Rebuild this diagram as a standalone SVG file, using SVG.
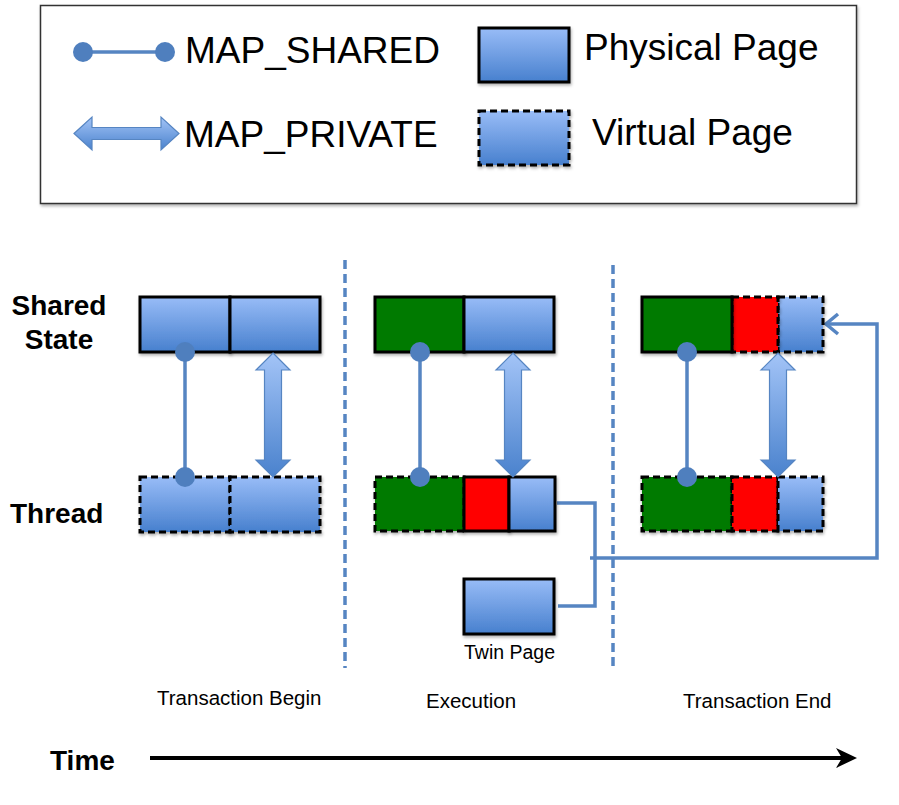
<svg xmlns="http://www.w3.org/2000/svg" width="899" height="805" viewBox="0 0 899 805">
<defs>
<linearGradient id="blue" x1="0" y1="0" x2="0" y2="1">
<stop offset="0" stop-color="#98BCF7"/>
<stop offset="1" stop-color="#4780CE"/>
</linearGradient>
<linearGradient id="arrowGrad" x1="0" y1="0" x2="0" y2="1">
<stop offset="0" stop-color="#A3C4F7"/>
<stop offset="1" stop-color="#4A82CD"/>
</linearGradient>
<filter id="sh" x="-10%" y="-10%" width="130%" height="140%">
<feDropShadow dx="1" dy="2" stdDeviation="1.5" flood-color="#000" flood-opacity="0.3"/>
</filter>
</defs>
<style>
.lbl{font-family:"Liberation Sans",Arial,sans-serif;fill:#000}
.big{font-size:37px}
.bold{font-size:28px;font-weight:bold}
.small{font-size:20.5px}
.pg{stroke:#000;stroke-width:3;filter:url(#sh)}
.dash{stroke-dasharray:7 4}
.bl{fill:url(#blue)}
.gr{fill:#007A00}
.rd{fill:#FF0000}
.conn{stroke:#5685C2;stroke-width:3.5;fill:none}
.sep{stroke:#5685C2;stroke-width:3.5;stroke-dasharray:9 5;fill:none}
.dot{fill:#4F7FBE}
.dbl{fill:url(#arrowGrad);stroke:#5685C2;stroke-width:1.2}
</style>
<rect width="899" height="805" fill="#fff"/>

<g id="legend">
<rect x="40.5" y="5.5" width="816" height="198" fill="#fff" stroke="#333" stroke-width="1.5" filter="url(#sh)"/>
<g id="legend-shared">
<line x1="83" y1="52" x2="165" y2="52" class="conn"/>
<circle cx="83" cy="52" r="10" class="dot"/>
<circle cx="165" cy="52" r="10" class="dot"/>
<text x="185" y="63" class="lbl big">MAP_SHARED</text>
</g>
<g id="legend-private">
<path class="dbl" d="M74,133.5 L92,117 L92,127.5 L161,127.5 L161,117 L179,133.5 L161,150 L161,139.5 L92,139.5 L92,150 Z"/>
<text x="184" y="147" class="lbl big">MAP_PRIVATE</text>
</g>
<g id="legend-physical">
<rect x="479" y="28" width="90" height="54" class="pg bl"/>
<text x="584" y="60" class="lbl big">Physical Page</text>
</g>
<g id="legend-virtual">
<rect x="479" y="111" width="90" height="54" class="pg bl dash"/>
<text x="592" y="145" class="lbl big">Virtual Page</text>
</g>
</g>

<g id="row-labels">
<text x="59" y="315" text-anchor="middle" class="lbl bold">Shared</text>
<text x="59" y="349" text-anchor="middle" class="lbl bold">State</text>
<text x="10" y="523" class="lbl bold">Thread</text>
</g>

<g id="connectors">
<path class="sep" d="M345,260 V668"/>
<path class="sep" d="M613,265 V668"/>
<path class="conn" d="M557,503 H595 V606 H558"/>
<path class="conn" d="M590,558 H877 V324 H826"/>
<path class="conn" d="M838,314 L826,324 L838,334" stroke-width="4"/>
<line x1="150" y1="758" x2="842" y2="758" stroke="#000" stroke-width="4"/>
<path d="M836,748 L857,758 L836,768 L842,758 Z" fill="#000"/>
</g>

<g id="col1-shared">
<rect x="140" y="297" width="90" height="55" class="pg bl"/>
<rect x="230" y="297" width="90" height="55" class="pg bl"/>
</g>
<g id="col1-thread">
<rect x="140" y="477" width="90" height="55" class="pg bl dash"/>
<rect x="230" y="477" width="90" height="55" class="pg bl dash"/>
</g>
<g id="col1-links">
<line x1="185" y1="352" x2="185" y2="477" class="conn"/>
<circle cx="185" cy="352" r="10" class="dot"/>
<circle cx="185" cy="477" r="10" class="dot"/>
<path class="dbl" d="M273,353 L290,370 L281.5,370 L281.5,460 L290,460 L273,477 L256,460 L264.5,460 L264.5,370 L256,370 Z"/>
</g>

<g id="col2-shared">
<rect x="375" y="297" width="89" height="55" class="pg gr"/>
<rect x="464" y="297" width="90" height="55" class="pg bl"/>
</g>
<g id="col2-thread">
<rect x="375" y="477" width="89" height="54" class="pg gr dash"/>
<rect x="464" y="477" width="45" height="54" class="pg rd"/>
<rect x="509" y="477" width="46" height="54" class="pg bl"/>
</g>
<g id="col2-links">
<line x1="420" y1="352" x2="420" y2="477" class="conn"/>
<circle cx="420" cy="352" r="10" class="dot"/>
<circle cx="420" cy="477" r="10" class="dot"/>
<path class="dbl" d="M513,353 L530,370 L521.5,370 L521.5,460 L530,460 L513,477 L496,460 L504.5,460 L504.5,370 L496,370 Z"/>
</g>
<g id="twin-page">
<rect x="464" y="579" width="90" height="55" class="pg bl"/>
<text x="464" y="659" class="lbl" font-size="19.5">Twin Page</text>
</g>

<g id="col3-shared">
<rect x="778" y="297" width="45" height="55" class="pg bl dash"/>
<rect x="732" y="297" width="46" height="55" class="pg rd dash"/>
<rect x="642" y="297" width="90" height="55" class="pg gr"/>
</g>
<g id="col3-thread">
<rect x="642" y="477" width="90" height="54" class="pg gr dash"/>
<rect x="732" y="477" width="46" height="54" class="pg rd dash"/>
<rect x="778" y="477" width="45" height="54" class="pg bl dash"/>
</g>
<g id="col3-links">
<line x1="687" y1="352" x2="687" y2="477" class="conn"/>
<circle cx="687" cy="352" r="10" class="dot"/>
<circle cx="687" cy="477" r="10" class="dot"/>
<path class="dbl" d="M778,353 L795,370 L786.5,370 L786.5,460 L795,460 L778,477 L761,460 L769.5,460 L769.5,370 L761,370 Z"/>
</g>

<g id="phase-labels">
<text x="157" y="705" class="lbl small">Transaction Begin</text>
<text x="426" y="708" class="lbl small">Execution</text>
<text x="683" y="708" class="lbl small">Transaction End</text>
<text x="50" y="770" class="lbl bold">Time</text>
</g>
</svg>
